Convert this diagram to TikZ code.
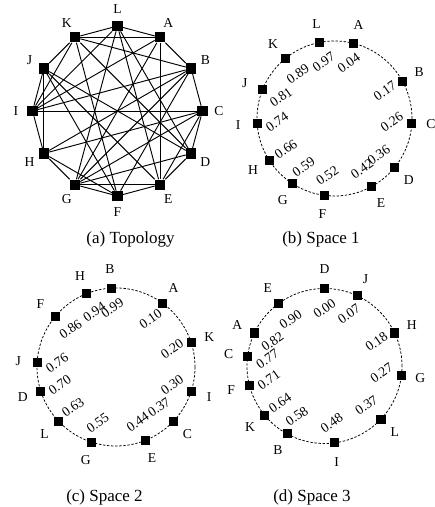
\documentclass[tikz,border=0pt]{standalone}
\usepackage{fontspec}
\setmainfont{Liberation Serif}
\usepackage{tikz}
\tikzset{
  sq/.style={fill=black, inner sep=0pt, minimum size=5.3pt},
  lbl/.style={font=\fontsize{8}{9}\selectfont},
  val/.style={font=\fontsize{8}{9}\selectfont, rotate=35, inner sep=0pt},
  link/.style={line width=0.55pt},
  ring/.style={line width=0.45pt, dash pattern=on 1.4pt off 1pt},
  subcap/.style={font=\fontsize{10}{12}\selectfont, anchor=base}
}

\begin{document}
\begin{tikzpicture}[x=0.588pt, y=0.588pt]
\useasboundingbox (0,0) rectangle (434,507);
% (a) topology
\begin{scope}[shift={(117.5,396)}]
  \foreach \n/\a in {L/90,A/60,B/30,C/0,D/-30,E/-60,F/-90,G/-120,H/-150,I/180,J/150,K/120} {
    \node[sq, minimum size=5.9pt] (a\n) at (\a:85) {};
    \node[lbl] (ta\n) at (\a:101.5) {\n};
  }
\end{scope}
\foreach \u/\v in {L/A,A/B,B/C,C/D,D/E,E/F,F/G,G/H,H/I,I/J,J/K,K/L,
    K/A,K/B,K/I,K/F,K/D,L/I,L/G,L/E,L/D,A/E,A/G,A/I,B/I,B/H,B/G,B/F,
    C/I,C/G,C/E,C/H,D/G,D/J,E/G,E/J,F/H,F/J,H/J}
  \draw[link] (a\u) -- (a\v);
\node[subcap] (capa) at (130.5,263.5) {(a) Topology};

% (b) space 1
\begin{scope}[shift={(334.5,388.5)}]
  \draw[ring] (0,0) circle (77.5);
  \foreach \n/\v in {A/0.04,B/0.17,C/0.26,D/0.36,E/0.42,F/0.52,G/0.59,H/0.66,I/0.74,J/0.81,K/0.89,L/0.97} {
    \pgfmathsetmacro\ang{90-360*\v}
    \node[sq] (b\n) at (\ang:77.5) {};
    \node[lbl] (tb\n) at (\ang:96.5) {\n};
    \node[val] (vb\n) at (\ang:57.5) {\v};
  }
\end{scope}
\node[subcap] (capb) at (321,263.5) {(b) Space 1};

% (c) space 2
\begin{scope}[shift={(116,140)}]
  \draw[ring] (0,0) circle (79);
  \foreach \n/\v in {A/0.10,K/0.20,I/0.30,C/0.37,E/0.44,G/0.55,L/0.63,D/0.70,J/0.76,F/0.86,H/0.94,B/0.99} {
    \pgfmathsetmacro\ang{90-360*\v}
    \node[sq] (c\n) at (\ang:79) {};
    \node[lbl] (tc\n) at (\ang:98) {\n};
    \node[val] (vc\n) at (\ang:59) {\v};
  }
\end{scope}
\node[subcap] (capc) at (104.5,5) {(c) Space 2};

% (d) space 3
\begin{scope}[shift={(324.5,141)}]
  \draw[ring] (0,0) circle (77.5);
  \foreach \n/\v in {D/0.00,J/0.07,H/0.18,G/0.27,L/0.37,I/0.48,B/0.58,K/0.64,F/0.71,C/0.77,A/0.82,E/0.90} {
    \pgfmathsetmacro\ang{90-360*\v}
    \node[sq] (d\n) at (\ang:77.5) {};
    \node[lbl] (td\n) at (\ang:96.5) {\n};
    \node[val] (vd\n) at (\ang:57.5) {\v};
  }
\end{scope}
\node[subcap] (capd) at (312,5) {(d) Space 3};
\end{tikzpicture}
\end{document}
